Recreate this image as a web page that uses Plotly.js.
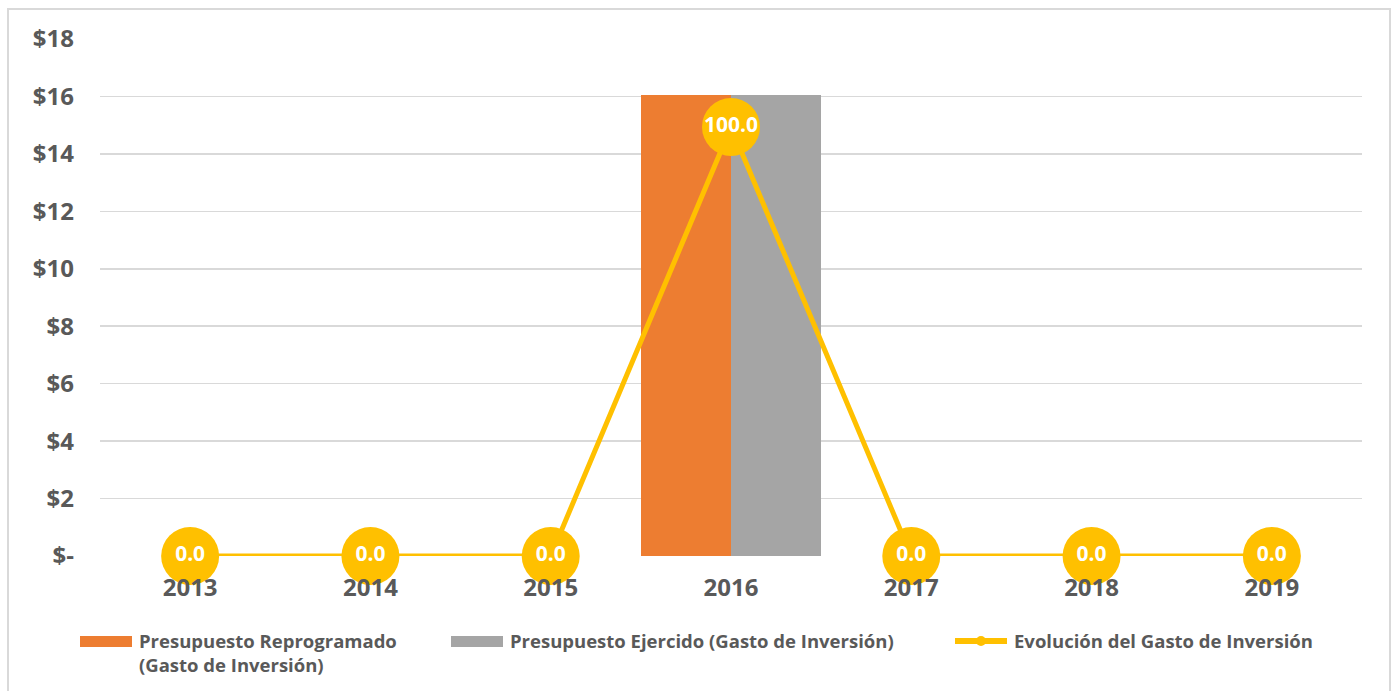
<!DOCTYPE html>
<html>
<head>
<meta charset="utf-8">
<script src="https://cdn.plot.ly/plotly-3.0.1.min.js"></script>
<style>
html,body{margin:0;padding:0;background:#fff;overflow:hidden;}
#frame{position:absolute;left:7px;top:8px;width:1384px;height:700px;border:2px solid #d9d9d9;box-sizing:border-box;}
#chart{position:absolute;left:0;top:0;width:1392px;height:691px;}
</style>
</head>
<body>
<div id="frame"></div>
<div id="chart"></div>
<script>
const years = ['2013','2014','2015','2016','2017','2018','2019'];
const reprogramado = [0, 0, 0, 16.06, 0, 0, 0];
const ejercido = [0, 0, 0, 16.06, 0, 0, 0];
const evolucion = [0, 0, 0, 100, 0, 0, 0];
const yTickVals = [0, 2, 4, 6, 8, 10, 12, 14, 16, 18];
const yTickText = ['$-', '$2', '$4', '$6', '$8', '$10', '$12', '$14', '$16', '$18'];
const seriesNames = ['Presupuesto Reprogramado<br>(Gasto de Inversión)', 'Presupuesto Ejercido (Gasto de Inversión)', 'Evolución del Gasto de Inversión'];

const FONT = '"Open Sans", "Noto Sans", sans-serif';
const GREY = '#595959';
const ORANGE = '#ED7D31', GRAY = '#A5A5A5', GOLD = '#FFC000';

// plot area in pixels
const L = 100, R = 1362, T = 39, B = 556;
const px = x => (x - L) / (R - L);
const py = y => (B - y) / (B - T);

const traces = [
  {
    type: 'bar', x: years, y: reprogramado,
    name: seriesNames[0],
    marker: {color: ORANGE}, hoverinfo: 'y'
  },
  {
    type: 'bar', x: years, y: ejercido,
    name: seriesNames[1],
    marker: {color: GRAY}, hoverinfo: 'y'
  },
  {
    type: 'scatter', mode: 'lines+markers+text', x: years, y: evolucion, yaxis: 'y2',
    name: seriesNames[2],
    line: {color: GOLD, width: 5},
    marker: {color: GOLD, size: 58},
    text: evolucion.map(v => v.toFixed(1)),
    textposition: 'middle center',
    textfont: {family: FONT, size: 21, color: '#ffffff', weight: 'bold'},
    cliponaxis: false
  }
];

const legFont = {family: FONT, size: 18.5, color: GREY, weight: 'bold'};
const shapes = [
  {type: 'rect', xref: 'paper', yref: 'paper', x0: px(80), x1: px(132), y0: py(647), y1: py(636), fillcolor: ORANGE, line: {width: 0}},
  {type: 'rect', xref: 'paper', yref: 'paper', x0: px(451), x1: px(503), y0: py(647), y1: py(636), fillcolor: GRAY, line: {width: 0}},
  {type: 'line', xref: 'paper', yref: 'paper', x0: px(955), x1: px(1007), y0: py(641), y1: py(641), line: {color: GOLD, width: 6}},
  {type: 'circle', xref: 'paper', yref: 'paper', x0: px(976), x1: px(986), y0: py(646), y1: py(636), fillcolor: GOLD, line: {width: 0}}
];
const annotations = [
  {xref: 'paper', yref: 'paper', x: px(137), y: py(626), xanchor: 'left', yanchor: 'top', align: 'left', text: seriesNames[0], showarrow: false, font: legFont},
  {xref: 'paper', yref: 'paper', x: px(508), y: py(640), xanchor: 'left', yanchor: 'middle', text: seriesNames[1], showarrow: false, font: legFont},
  {xref: 'paper', yref: 'paper', x: px(1012), y: py(640), xanchor: 'left', yanchor: 'middle', text: seriesNames[2], showarrow: false, font: legFont}
];

const layout = {
  width: 1392, height: 691,
  margin: {l: L, r: 1392 - R, t: T, b: 691 - B},
  paper_bgcolor: 'rgba(0,0,0,0)',
  plot_bgcolor: 'rgba(0,0,0,0)',
  barmode: 'group',
  bargap: 0.0, bargroupgap: 0,
  font: {family: FONT, color: GREY},
  showlegend: false,
  xaxis: {
    type: 'category', automargin: false, range: [-0.5, 6.5],
    showgrid: false, zeroline: false, showline: false,
    ticks: '', ticklabelstandoff: 15,
    tickfont: {family: FONT, size: 24, color: GREY, weight: 'bold'}
  },
  yaxis: {
    range: [0, 18], automargin: false,
    tickvals: yTickVals, ticktext: yTickText,
    showgrid: true, gridcolor: '#d9d9d9', gridwidth: 1.6,
    zeroline: false, showline: false,
    ticks: '', ticklabelstandoff: 25,
    tickfont: {family: FONT, size: 24, color: GREY, weight: 'bold'}
  },
  yaxis2: {
    overlaying: 'y', side: 'right', range: [0, 120.5],
    visible: false, showgrid: false, zeroline: false
  },
  shapes: shapes,
  annotations: annotations
};

Plotly.newPlot('chart', traces, layout, {displayModeBar: false, staticPlot: true});
</script>
</body>
</html>
